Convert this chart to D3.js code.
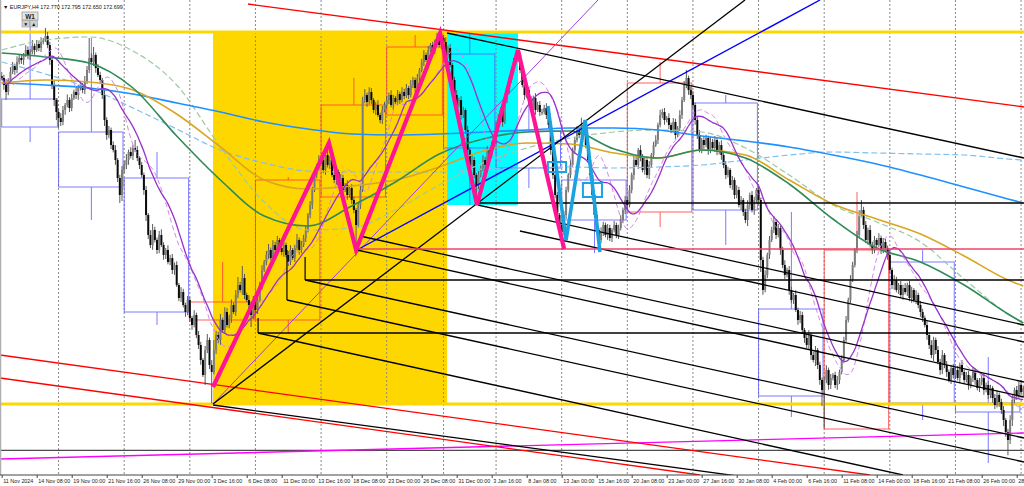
<!DOCTYPE html>
<html><head><meta charset="utf-8">
<script src="https://cdn.jsdelivr.net/npm/d3@7"></script>
<style>html,body{margin:0;padding:0;background:#fff;overflow:hidden}</style>
</head><body>
<svg id="c" width="1024" height="486"></svg>
<script>
// ---------- DATA ----------
const symbolTitle = "EURJPY,H4";
const headerValues = ["172.770", "172.795", "172.650", "172.699"];
const periodLabel = "W1";
const firstOpen = 164.10;
const closes = [164.05,163.875,163.7,164,164.2,164.35,164.25,164.45,164.55,164.5,164.625,164.75,164.6,164.7,164.85,164.75,164.9,164.8,164.95,165,165.1,164.875,164.5,163.875,163.5,163.2,
163.05,162.95,163.25,163.375,163.5,163.3,163.55,163.7,163.625,163.8,163.875,163.75,163.95,164.25,164.55,164.45,164.625,164.3,164.125,164,163.625,163,162.625,162.75,162.375,162.25,162,161.55,161.125,161.75,
161.875,162,162.2,162.1,162.3,162.25,162.05,161.875,161.625,161.25,160.625,160.125,159.875,160.25,160,159.75,160.125,159.875,159.625,159.75,159.45,159.55,159.25,159.375,158.875,158.55,158.7,158.375,158.2,158.5,
158.05,157.875,158.125,157.625,157.375,157,156.625,157.25,157.5,156.875,156.7,157.25,157.625,157.5,158,157.75,158.2,157.875,158.05,158.375,158.2,158.625,158.875,158.75,159.05,158.625,158.5,158.375,158.125,158.5,
158.25,158.5,158.875,159.25,159.45,159.625,159.75,159.55,159.875,159.75,160,159.8,159.7,159.875,159.625,159.45,159.75,159.55,159.8,160,159.75,159.875,160.05,160.25,160.625,160.875,161.25,161.625,161.8,162,
162,161.75,162.125,161.875,162,161.625,161.5,161.7,161.375,161.55,161.25,161.375,161.125,161.3,161,160.75,160.375,160.875,161.25,163.5,163.625,163.45,163.7,163.5,163.25,163.375,163.125,163,163.25,163.375,
163.5,163.625,163.375,163.55,163.45,163.65,163.5,163.7,163.6,163.8,163.625,163.875,164,163.8,164.05,164.25,164.45,164.625,164.5,164.75,164.875,164.7,164.95,165,164.875,165.05,
164.95,164.625,164.8,164.375,164,163.625,163.375,163.5,163.125,163.25,162.75,162.25,161.875,162,161.625,161.375,161.625,161.8,162,161.875,162.25,162.125,162.375,162.5,
162.875,163.05,163.25,162.95,163.5,163.75,164,164.25,164.45,164.55,164.625,164.25,163.875,163.625,163.75,163.5,163.375,163.55,163.25,163.375,163.2,
163.2,163.3,163.125,162.875,162.25,161.625,161.125,160.625,160.375,
160.2,160.625,161.25,161.625,161.875,162.25,162.5,162.75,162.625,162.875,162.75,162.375,162,161.625,161.125,160.625,160.25,160,160.2,160.375,160.125,160.3,160.05,160.25,160.375,160.125,160.3,160.5,160.75,161,
160.875,161.25,161.625,162,161.875,162.25,162.05,161.75,162,161.625,161.875,162.125,162.375,162.5,162.875,163.125,163.2,163,163.05,162.875,162.75,162.95,162.625,162.8,163.125,163.5,163.875,164.05,163.75,163.625,
163.375,163,162.625,162.25,162.5,162.375,162.55,162.25,162.45,162.3,162.5,162.2,162.375,162.125,161.875,161.625,161.75,161.375,161.5,161.125,161.25,160.875,161,160.7,160.5,160.875,161.125,160.75,161,161.25,
161,159.5,158.75,159.125,159.625,160,160.25,160.45,160.125,160.3,159.75,159.375,159.125,159.25,158.75,158.5,158.625,158.25,158,158.125,157.75,157.55,157.375,157.625,157.125,157,157.25,156.875,156.5,156.25,
156.5,156.75,156.375,156.55,156.625,156.375,156.5,156.7,157,157.5,158,158.5,159,159.375,159.75,160.125,160.625,160.75,160.375,160,160.25,159.875,159.75,160,159.875,160.05,159.75,159.95,159.8,159.625,
159.25,158.875,159,158.75,158.875,158.625,158.8,158.7,158.875,158.55,158.75,158.5,158.625,158.375,158.2,158.05,157.875,157.625,157.375,157.125,157.5,157.25,156.95,156.75,157.125,156.875,156.7,156.5,156.8,156.625,
156.75,156.55,156.875,156.7,156.5,156.625,156.375,156.55,156.7,156.5,156.3,156.45,156.55,156.25,156.375,156.125,156.3,156.05,155.875,156.125,155.95,155.75,155.5,155.2,155,155.5,156,156.25,156.125,156.375,156.2,156.3];
const upperWicks = [.10,.08,.15,.05,.12,.10,.06,.14,.08,.10,.05,.12,.09,.07,.15,.06,.10,.08,.12,.05,.20,.10,.08,.06,.12,.05,
.08,.12,.10,.05,.14,.07,.10,.06,.12,.08,.10,.05,.15,.10,.50,.12,.20,.06,.10,.08,.05,.12,.07,.10,.06,.09,.12,.05,.08,.10,
.10,.15,.06,.12,.08,.20,.10,.05,.08,.06,.10,.05,.12,.15,.08,.06,.10,.14,.07,.05,.12,.08,.10,.06,.09,.05,.12,.08,.06,.10,
.08,.05,.12,.06,.10,.08,.05,.10,.15,.06,.12,.25,.10,.08,.15,.06,.12,.10,.08,.14,.06,.12,.20,.08,.30,.10,.06,.12,.08,.10,
.06,.10,.08,.12,.05,.10,.15,.06,.12,.08,.10,.05,.14,.08,.06,.10,.12,.05,.08,.15,.06,.10,.08,.12,.05,.10,.08,.06,.10,.12,
.08,.12,.06,.30,.10,.05,.08,.12,.06,.10,.08,.05,.12,.06,.10,.08,.05,.06,.10,.08,.15,.06,.12,.10,.05,.08,.12,.06,.10,.08,
.10,.06,.12,.08,.05,.10,.06,.12,.08,.10,.05,.12,.08,.06,.10,.05,.08,.12,.06,.10,.05,.08,.06,.18,.10,.10,
.08,.12,.06,.10,.05,.08,.12,.06,.10,.08,.05,.10,.06,.12,.08,.05,.10,.06,.12,.08,.10,.05,.08,.06,
.08,.10,.06,.12,.05,.10,.08,.06,.10,.08,.13,.06,.10,.12,.05,.08,.10,.06,.12,.08,.10,.08,.08,.12,.06,.05,.10,.06,.08,.05,
.06,.10,.08,.05,.12,.06,.08,.10,.05,.18,.08,.06,.10,.05,.08,.06,.10,.05,.12,.08,.06,.10,.08,.05,.10,.06,.08,.12,.06,.10,
.08,.12,.06,.10,.08,.05,.12,.10,.06,.08,.10,.05,.08,.12,.06,.13,.08,.10,.05,.12,.06,.10,.08,.05,.12,.08,.10,.20,.06,.08,
.10,.06,.08,.12,.05,.10,.08,.06,.12,.08,.10,.05,.08,.12,.06,.10,.08,.05,.10,.06,.12,.08,.10,.05,.08,.12,.06,.10,.08,.05,
.10,.05,.08,.12,.06,.10,.08,.15,.06,.10,.05,.08,.12,.06,.10,.08,.05,.12,.06,.10,.08,.05,.10,.12,.06,.08,.10,.05,.08,.06,
.08,.12,.06,.10,.05,.08,.10,.06,.12,.08,.10,.06,.12,.08,.05,.10,.12,.25,.08,.10,.06,.12,.08,.10,.05,.12,.06,.10,.08,.06,
.10,.06,.12,.08,.05,.10,.08,.12,.06,.10,.08,.05,.12,.06,.10,.08,.06,.10,.05,.12,.08,.06,.10,.08,.12,.05,.10,.06,.08,.10,
.08,.10,.06,.12,.05,.08,.10,.06,.12,.08,.05,.10,.08,.12,.06,.10,.08,.05,.10,.12,.06,.08,.10,.05,.08,.12,.15,.06,.10,.08,.12,.06];
const lowerWicks = [.06,.12,.20,.08,.10,.05,.12,.08,.06,.10,.12,.05,.08,.10,.06,.12,.05,.08,.10,.06,.05,.08,.12,.10,.15,.20,
.25,.10,.08,.12,.06,.10,.08,.05,.10,.12,.06,.08,.10,.05,.08,.06,.10,.12,.05,.08,.10,.15,.12,.08,.10,.06,.12,.10,.20,.15,
.08,.10,.12,.06,.10,.05,.08,.10,.06,.12,.15,.10,.08,.12,.06,.10,.08,.05,.12,.10,.06,.08,.10,.12,.05,.08,.10,.06,.12,.08,
.10,.12,.06,.08,.10,.12,.05,.25,.08,.10,.78,.06,.10,.08,.12,.05,.10,.06,.08,.12,.05,.10,.08,.06,.12,.10,.05,.08,.30,.10,
.08,.10,.06,.12,.05,.08,.10,.06,.12,.08,.10,.05,.08,.12,.06,.10,.08,.05,.10,.06,.12,.08,.05,.10,.06,.08,.10,.05,.08,.06,
.10,.08,.12,.06,.10,.05,.08,.12,.06,.10,.08,.05,.12,.06,.10,.08,.58,.06,.10,.05,.08,.12,.06,.10,.08,.12,.05,.08,.10,.06,
.08,.10,.06,.12,.05,.08,.10,.06,.08,.05,.10,.06,.08,.12,.05,.08,.06,.10,.05,.08,.06,.10,.05,.08,.06,.10,
.06,.10,.08,.05,.12,.08,.10,.06,.12,.08,.10,.12,.06,.10,.08,.45,.10,.06,.08,.12,.06,.10,.08,.05,
.10,.06,.08,.12,.05,.08,.10,.06,.08,.05,.10,.08,.06,.12,.08,.10,.06,.08,.12,.05,.10,.08,.06,.10,.08,.12,.10,.08,.12,.10,
.20,.08,.10,.06,.08,.05,.10,.06,.08,.05,.10,.08,.06,.10,.12,.08,.10,.30,.08,.10,.06,.12,.08,.10,.06,.08,.10,.06,.08,.10,
.10,.06,.08,.12,.05,.10,.08,.06,.12,.08,.10,.06,.08,.05,.10,.06,.08,.12,.06,.10,.08,.05,.10,.06,.08,.10,.05,.08,.12,.10,
.08,.12,.10,.06,.08,.10,.06,.12,.08,.05,.10,.08,.06,.12,.08,.10,.06,.08,.12,.10,.08,.06,.12,.10,.08,.15,.10,.06,.12,.08,
.10,.30,.12,.06,.08,.10,.05,.08,.10,.06,.12,.08,.10,.06,.12,.08,.10,.05,.12,.08,.10,.12,.08,.10,.12,.06,.15,.10,.12,.40,
.95,.08,.12,.10,.06,.08,.12,.10,.06,.08,.05,.06,.08,.05,.06,.08,.05,.06,.10,.08,.12,.06,.10,.08,.12,.06,.10,.08,.06,.12,
.08,.10,.12,.06,.10,.08,.12,.06,.10,.08,.12,.06,.10,.08,.12,.10,.06,.12,.10,.08,.15,.10,.06,.12,.10,.08,.12,.06,.10,.08,
.10,.06,.12,.08,.10,.06,.12,.08,.10,.12,.06,.10,.08,.12,.06,.10,.08,.12,.10,.06,.12,.10,.15,.12,.38,.10,.15,.08,.12,.10,.08,.10];

const tickBars = [0,16,32,48,64,80,96,112,128,144,160,176,192,208,224,240,256,272,288,304,320,336,352,368,384,400,416,432,448,464];
const tickLabels = ["11 Nov 2024","14 Nov 08:00","19 Nov 00:00","21 Nov 16:00","26 Nov 08:00","29 Nov 00:00","3 Dec 16:00","6 Dec 08:00","11 Dec 00:00","13 Dec 16:00","18 Dec 08:00","23 Dec 00:00","26 Dec 08:00","31 Dec 00:00","3 Jan 16:00","8 Jan 08:00","13 Jan 00:00","15 Jan 16:00","20 Jan 08:00","23 Jan 00:00","27 Jan 16:00","30 Jan 08:00","4 Feb 00:00","6 Feb 16:00","11 Feb 08:00","14 Feb 00:00","18 Feb 16:00","21 Feb 08:00","26 Feb 00:00","28 Feb 16:00"];
const gridBars = [26,56,86,116,146,176,202,226,256,286,316,346,376,406,436,466];

// weekly (higher timeframe) candles
const weekStart = [0,26,56,86,116,146,176,202,226,256,286,316,346,376,406,436];
const weekEnd   = [26,56,86,116,146,176,202,226,256,286,316,346,376,406,436,466];
const weekOpen  = [163.525,162.7,161.55,158.0,158.0,161.075,163.125,164.65,162.725,161.5,160.7,163.425,158.275,155.275,159.45,155.925];
const weekClose = [162.825,161.325,158.2,158.45,161.5,163.375,164.825,162.3,161.8,160.5,163.925,160.75,156.1,159.75,155.925,155.7];
const weekHigh  = [165.325,165.05,162.2,159.45,161.575,164.05,165.125,165.175,163.7,161.5,164.45,163.625,160.7,161.2,159.75,157.075];
const weekLow   = [162.45,160.5,157.875,157.675,157.675,161.075,163.125,160.875,161.3,159.675,160.325,159.875,155.575,155.275,155.5,154.425];

// long moving averages sampled at bars
const maBars = [0,20,40,60,80,100,120,140,160,180,200,220,240,260,280,300,320,340,360,380,400,420,440,460,467];
const maBlue = [163.925,163.875,163.8,163.65,163.425,163.2,162.95,162.775,162.65,162.625,162.65,162.7,162.75,162.8,162.8,162.75,162.6,162.475,162.325,162.125,161.9,161.625,161.325,161.025,160.925];
const maBlueDash = [164.45,164.15,163.8,163.3,162.775,162.25,161.925,161.725,161.7,161.7,161.7,161.775,161.8,161.825,161.8,161.825,161.875,162.0,162.125,162.2,162.175,162.15,162.125,162.025,162.0];
const maGreen = [164.675,164.575,164.425,163.8,162.6,161.5,160.6,160.35,160.85,161.45,162.15,162.525,162.7,162.725,162.275,162.05,162.25,162.05,161.4,160.525,159.8,159.45,158.875,158.15,157.925];
const maGold = [163.925,164.0,163.95,163.75,163.15,162.325,161.5,161.275,161.35,161.5,161.825,162.225,162.425,162.4,162.175,162.05,162.25,162.125,161.5,160.9,160.525,160.15,159.6,159.0,158.85];
const maGreenDash = [164.75,165.0,165.075,164.725,163.875,162.325,160.95,160.25,160.3,160.75,161.375,161.925,162.3,162.55,162.7,162.75,162.7,162.3,161.625,160.875,160.45,159.95,159.025,158.15,157.925];
const fastPeriod = 21, slowDashPeriod = 13, dashShift = 3;

// drawn objects (bar index, price)
const goldZone = [96.6,165.2,203.6,155.9];
const cyanZone = [203.6,165.2,236.0,160.875];
const pinkZigzag = [[96.6,156.325],[149.6,162.425],[162.0,159.75],[200.4,165.175],[217.3,160.875],[236.0,164.75],[257.1,159.775]];
const blueZigzag = [[249.7,163.35],[258.0,160.0],[266.7,163.0],[273.5,159.7]];
const blueBoxes = [[249.7,161.95,258.0,161.7],[265.7,161.425,274.4,161.075]];
const blackTrend = [[203.6,165.175,467.3,162.05],[217.7,160.875,467.3,157.875],[236.9,160.225,467.3,157.45],[163.8,160.1,467.3,156.45],[162.4,159.75,467.3,156.075],[138.7,159.0,467.3,155.05],[130.4,158.5,467.3,154.45],[117.2,157.675,412.0,154.125],[96.6,155.875,339.8,154.075],[96.6,155.9,339.8,166.0]];
const blackDrops = [[138.7,159.575,159.0],[130.4,159.75,158.5],[117.2,158.05,157.675]];
const blackLevels = [[217.7,160.925],[138.7,159.0],[117.2,157.675]];
const greyLevel = 154.74;
const redTrend = [[112.6,165.9,467.3,163.325],[-0.8,157.125,396.9,154.125],[-0.8,156.55,319.2,154.125]];
const blueTrend = [[162.4,159.75,374.1,166.0]];
const purpleTrend = [[96.6,155.9,272.6,166.0]];
const magentaTrend = [[-0.8,154.525,467.3,155.175]];
const crimsonLevel = [162.5,159.775];
const yellowLevels = [165.2,155.9];

// ---------- DRAW ----------
const W = 1024, H = 486, plotBottom = 475;
const svg = d3.select("#c");
const x = d3.scaleLinear().domain([0, 468]).range([1.7, 1.7 + 468 * 2.1875]);
const y = d3.scaleLinear().domain([166, 153.85]).range([0, H]);
const xEnd = 470;

svg.append("defs").append("clipPath").attr("id","plot").append("rect")
  .attr("x",0).attr("y",0).attr("width",W).attr("height",plotBottom);
const g = svg.append("g").attr("clip-path","url(#plot)");

function zone(z, color){
  g.append("rect").attr("x", x(z[0])).attr("y", y(z[1]))
    .attr("width", x(z[2]) - x(z[0])).attr("height", y(z[3]) - y(z[1])).attr("fill", color);
}
zone(goldZone, "#FFD700");
zone(cyanZone, "#00FFFF");

// grid
g.selectAll(".grid").data(gridBars).enter().append("line")
  .attr("x1", d => x(d)).attr("x2", d => x(d)).attr("y1", 0).attr("y2", plotBottom)
  .attr("stroke", "#8a8a8a").attr("stroke-width", 1).attr("stroke-dasharray", "2,2");

// weekly boxes
weekStart.forEach((s, k) => {
  const e = weekEnd[k], o = weekOpen[k], c = weekClose[k];
  const col = c > o ? "#ff3a3a" : "#5a5aff";
  const x0 = x(s), x1 = x(e) - 1.2, xm = x((s + e) / 2);
  const top = y(Math.max(o, c)), bot = y(Math.min(o, c));
  const wg = g.append("g").attr("stroke", col).attr("stroke-width", 1).attr("fill", "none").attr("opacity", 0.8);
  wg.append("rect").attr("x", x0).attr("y", top).attr("width", x1 - x0).attr("height", Math.max(1, bot - top));
  wg.append("line").attr("x1", xm).attr("x2", xm).attr("y1", y(weekHigh[k])).attr("y2", top);
  wg.append("line").attr("x1", xm).attr("x2", xm).attr("y1", bot).attr("y2", y(weekLow[k]));
});

// yellow levels
yellowLevels.forEach(p => g.append("line").attr("x1",0).attr("x2",W).attr("y1",y(p)).attr("y2",y(p))
  .attr("stroke","#FFD700").attr("stroke-width",3));

// candles
const candles = closes.map((c, i) => {
  const o = i === 0 ? firstOpen : closes[i - 1];
  return {i, o, c, h: Math.max(o, c) + upperWicks[i], l: Math.min(o, c) - lowerWicks[i]};
});
const cg = g.append("g");
cg.selectAll(".wick").data(candles).enter().append("line")
  .attr("x1", d => x(d.i)).attr("x2", d => x(d.i)).attr("y1", d => y(d.h)).attr("y2", d => y(d.l))
  .attr("stroke", "#5a5a5a").attr("stroke-width", 1);
cg.selectAll(".body").data(candles).enter().append("rect")
  .attr("x", d => x(d.i) - 1).attr("width", 2)
  .attr("y", d => y(Math.max(d.o, d.c)))
  .attr("height", d => Math.max(1, Math.abs(y(d.o) - y(d.c))))
  .attr("fill", d => d.c >= d.o ? "#7d7d7d" : "#0a0a0a");

// moving averages
const maLine = d3.line().x(d => x(d[0])).y(d => y(d[1])).curve(d3.curveMonotoneX);
function ma(vals, color, w, dash){
  g.append("path").attr("d", maLine(maBars.map((b, k) => [b, vals[k]])))
    .attr("fill","none").attr("stroke",color).attr("stroke-width",w).attr("stroke-dasharray",dash||null);
}
ma(maBlueDash, "#7cc0f0", 1.2, "6,3");
ma(maGreenDash, "#9cc9a4", 1.2, "6,3");
ma(maBlue, "#1e90ff", 1.6);
ma(maGold, "#daa520", 1.6);
ma(maGreen, "#2e8b57", 1.6);

function sma(period){
  return closes.map((c, i) => {
    const a = closes.slice(Math.max(0, i - period + 1), i + 1);
    return [i, d3.mean(a)];
  });
}
const fastLine = d3.line().x(d => x(d[0])).y(d => y(d[1])).curve(d3.curveBasis);
g.append("path").attr("d", fastLine(sma(slowDashPeriod).map(d => [d[0] + dashShift, d[1]])))
  .attr("fill","none").attr("stroke","#cf8ae6").attr("stroke-width",1).attr("stroke-dasharray","5,3");
g.append("path").attr("d", fastLine(sma(fastPeriod)))
  .attr("fill","none").attr("stroke","#9932cc").attr("stroke-width",1.3);

// trend lines
function seg(list, color, w){
  list.forEach(t => g.append("line").attr("x1", x(t[0])).attr("y1", y(t[1])).attr("x2", x(t[2])).attr("y2", y(t[3]))
    .attr("stroke", color).attr("stroke-width", w));
}
g.append("line").attr("x1",0).attr("x2",W).attr("y1",y(greyLevel)).attr("y2",y(greyLevel)).attr("stroke","#4a4a4a").attr("stroke-width",1.3);
seg(magentaTrend, "#ff00ff", 1.4);
seg(redTrend, "#ff0000", 1.3);
seg(purpleTrend, "#a040e0", 1);
seg(blueTrend, "#0000ff", 1.4);
seg(blackTrend, "#000", 1.3);
blackLevels.forEach(l => g.append("line").attr("x1", x(l[0])).attr("x2", x(xEnd)).attr("y1", y(l[1])).attr("y2", y(l[1]))
  .attr("stroke","#000").attr("stroke-width",1.3));
blackDrops.forEach(d => g.append("line").attr("x1", x(d[0])).attr("x2", x(d[0])).attr("y1", y(d[1])).attr("y2", y(d[2]))
  .attr("stroke","#000").attr("stroke-width",1.2));
g.append("line").attr("x1", x(crimsonLevel[0])).attr("x2", x(xEnd)).attr("y1", y(crimsonLevel[1])).attr("y2", y(crimsonLevel[1]))
  .attr("stroke","#ec4468").attr("stroke-width",1.6);

// zigzags
const zz = d3.line().x(d => x(d[0])).y(d => y(d[1]));
g.append("path").attr("d", zz(pinkZigzag)).attr("fill","none").attr("stroke","#ff1493").attr("stroke-width",4.2);
g.append("path").attr("d", zz(blueZigzag)).attr("fill","none").attr("stroke","#1aa3e0").attr("stroke-width",3.6);
blueBoxes.forEach(b => g.append("rect").attr("x", x(b[0])).attr("y", y(b[1])).attr("width", x(b[2]) - x(b[0]))
  .attr("height", y(b[3]) - y(b[1])).attr("fill","none").attr("stroke","#1aa3e0").attr("stroke-width",2));

// left border
svg.append("line").attr("x1",0.5).attr("x2",0.5).attr("y1",0).attr("y2",plotBottom).attr("stroke","#b0b0b0").attr("stroke-width",1.5);

// time axis
const axis = d3.axisBottom(x).tickValues(tickBars).tickFormat((d, i) => tickLabels[i]).tickSize(3).tickSizeOuter(0);
const ag = svg.append("g").attr("transform", `translate(0,${plotBottom})`).call(axis);
ag.select(".domain").attr("stroke","#444").attr("d", `M0,0H${W}`);
ag.selectAll(".tick line").attr("stroke","#444");
ag.selectAll(".tick text").attr("text-anchor","start").attr("dx", 1).attr("y", 4)
  .attr("font-family","Liberation Sans, Arial, sans-serif").attr("font-size", 5.4).attr("fill","#222");

// header
svg.append("text").attr("x", 3).attr("y", 9).attr("font-family","Liberation Sans, Arial, sans-serif").attr("font-size", 5.4).attr("fill","#111")
  .text("▼ " + symbolTitle + " " + headerValues.join(" "));
const bt = svg.append("g");
bt.append("rect").attr("x",22).attr("y",12).attr("width",16).attr("height",8).attr("fill","#e4e4e4").attr("stroke","#9a9a9a").attr("stroke-width",0.8);
bt.append("text").attr("x",30).attr("y",18.6).attr("text-anchor","middle").attr("font-family","Liberation Sans, Arial, sans-serif").attr("font-weight","bold").attr("font-size",6.5).attr("fill","#222").text(periodLabel);
[["▼",22],["▲",30]].forEach(b => {
  bt.append("rect").attr("x",b[1]).attr("y",20.5).attr("width",7.5).attr("height",6.5).attr("fill","#cfcfcf").attr("stroke","#9a9a9a").attr("stroke-width",0.6);
  bt.append("text").attr("x",b[1]+3.75).attr("y",25.8).attr("text-anchor","middle").attr("font-size",5).attr("fill","#111").text(b[0]);
});
</script>
</body></html>
